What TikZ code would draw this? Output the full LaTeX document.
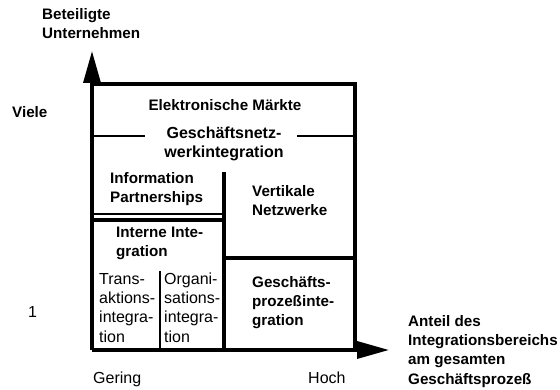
\documentclass[tikz,border=0pt]{standalone}
\usepackage{fontspec}
\setmainfont{Liberation Sans}
\usetikzlibrary{arrows.meta}
\begin{document}
\begin{tikzpicture}[x=1pt,y=-1pt,
  heavy/.style={line width=3.6pt},
  med/.style={line width=2.8pt},
  thin/.style={line width=2pt},
  axisarrow/.style={line width=3.6pt,-{Triangle[length=32pt,width=17pt]}},
  lbl/.style={inner sep=0pt,anchor=base west,align=left,font=\fontsize{16}{19.3}\selectfont},
  blbl/.style={inner sep=0pt,anchor=base west,align=left,font=\fontsize{15.2}{19.3}\selectfont\bfseries},
  clbl/.style={inner sep=0pt,anchor=base,align=center,font=\fontsize{15.2}{19.3}\selectfont\bfseries}]
\useasboundingbox (0,0) rectangle (560,390);
% axes
\coordinate (O) at (92,350);
\coordinate (ytip) at (92,51);
\coordinate (xtip) at (389,350);
\draw[axisarrow] (O) -- (ytip);
\draw[axisarrow] (O) -- (xtip);
% outer frame
\coordinate (tl) at (92,84);
\coordinate (tr) at (355,84);
\coordinate (br) at (355,350);
\draw[heavy] (tl) -- (tr) -- (br);
% Geschaeftsnetzwerk separators
\coordinate (gl1) at (92,136);
\coordinate (gl2) at (145,136);
\coordinate (gr1) at (297,136);
\coordinate (gr2) at (355,136);
\draw[med] (gl1) -- (gl2);
\draw[med] (gr1) -- (gr2);
% vertical divider
\coordinate (vd1) at (224,172);
\coordinate (vd2) at (224,350);
\draw[heavy] (vd1) -- (vd2);
% Information Partnerships bottom
\coordinate (ip1) at (92,214);
\coordinate (ip2) at (224,214);
\draw[thin] (ip1) -- (ip2);
% Interne Integration top
\coordinate (ii1) at (92,220);
\coordinate (ii2) at (224,220);
\draw[heavy] (ii1) -- (ii2);
% Geschaeftsprozess top
\coordinate (gp1) at (224,258);
\coordinate (gp2) at (355,258);
\draw[heavy] (gp1) -- (gp2);
% inner divider
\coordinate (id1) at (160,271);
\coordinate (id2) at (160,350);
\draw[med] (id1) -- (id2);
% labels (anchor = baseline of the last line)
\node[blbl] (yl) at (42,39) {Beteiligte\\Unternehmen};
\node[blbl] (viele) at (12,118) {Viele};
\node[lbl] (eins) at (28,318) {1};
\node[lbl] (gering) at (93,383) {Gering};
\node[lbl] (hoch) at (308,383) {Hoch};
\node[blbl] (xl) at (408,384) {Anteil des\\Integrationsbereichs\\am gesamten\\Gesch\"aftsproze\ss};
\node[clbl] (em) at (225,111) {Elektronische M\"arkte};
\node[clbl,font=\fontsize{16}{19.3}\selectfont\bfseries] (gn) at (224,158) {Gesch\"aftsnetz-\\werkintegration};
\node[blbl] (ip) at (110,203) {Information\\Partnerships};
\node[blbl] (vn) at (252,216) {Vertikale\\Netzwerke};
\node[blbl] (ii) at (116,257) {Interne Inte-\\gration};
\node[lbl] (ti) at (99,342) {Trans-\\aktions-\\integra-\\tion};
\node[lbl] (oi) at (164,342) {Organi-\\sations-\\integra-\\tion};
\node[blbl] (gpi) at (252,326) {Gesch\"afts-\\proze\ss inte-\\gration};
\end{tikzpicture}
\end{document}
